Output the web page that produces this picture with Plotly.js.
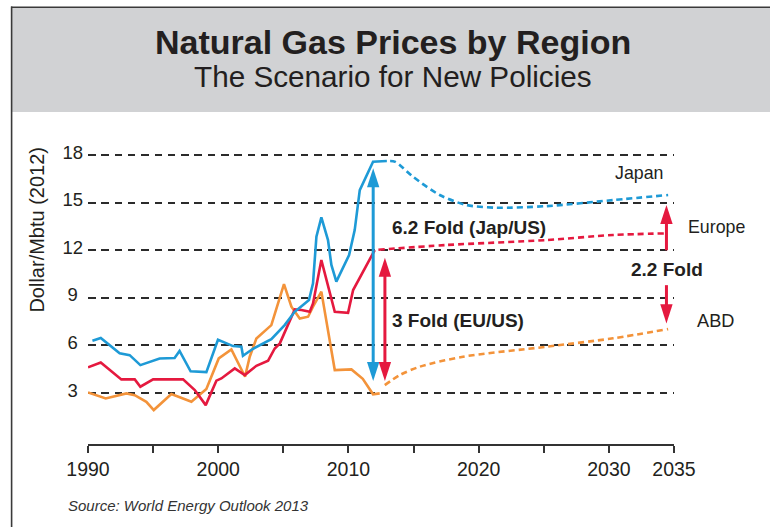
<!DOCTYPE html>
<html>
<head>
<meta charset="utf-8">
<script src="https://cdn.plot.ly/plotly-3.0.1.min.js"></script>
<style>html,body{margin:0;padding:0;background:#fff;}#chart{width:770px;height:527px;}</style>
</head>
<body>
<div id="chart"></div>
<script>
// ---- data ----
const japanHistYears = [1990.34, 1990.98, 1992.43, 1993.20, 1994.02, 1995.50, 1996.65, 1997.03, 1997.88, 1999.09, 1999.98, 2001.14, 2001.78, 2001.90, 2002.67, 2003.19, 2004.08, 2005.10, 2005.87, 2006.51, 2006.97, 2007.28, 2007.54, 2007.92, 2008.43, 2008.69, 2009.07, 2010.05, 2010.48, 2010.87, 2011.89, 2012.95];
const japanHistPrice = [6.30, 6.47, 5.50, 5.39, 4.76, 5.18, 5.21, 5.65, 4.37, 4.32, 6.36, 5.96, 5.92, 5.35, 5.79, 6.02, 6.40, 7.28, 8.12, 8.55, 8.86, 9.91, 12.85, 14.07, 12.64, 11.07, 10.02, 11.70, 13.27, 15.79, 17.58, 17.62];
const japanProjYears = [2013.2, 2013.6, 2014.96, 2017.01, 2019.06, 2021.37, 2025.21, 2030.32, 2034.55];
const japanProjPrice = [17.62, 17.57, 16.63, 15.48, 14.85, 14.68, 14.78, 15.16, 15.48];

const europeHistYears = [1990.0, 1990.98, 1992.56, 1993.59, 1994.02, 1995.0, 1997.30, 1998.20, 1999.04, 1999.86, 2000.24, 2001.27, 2002.04, 2002.93, 2003.83, 2004.34, 2004.73, 2005.88, 2006.39, 2007.03, 2007.28, 2007.92, 2008.95, 2009.97, 2010.36, 2012.02];
const europeHistPrice = [4.62, 4.93, 3.86, 3.86, 3.40, 3.86, 3.86, 3.19, 2.24, 3.78, 3.92, 4.55, 4.13, 4.72, 5.04, 5.81, 6.13, 8.27, 8.23, 8.12, 8.65, 11.38, 8.12, 8.06, 9.49, 12.01];
const europeProjYears = [2012.3, 2017.53, 2025.21, 2030.32, 2034.3];
const europeProjPrice = [12.03, 12.33, 12.64, 12.96, 13.06];

const usHistYears = [1990.0, 1991.36, 1992.95, 1993.59, 1994.48, 1995.05, 1996.40, 1997.94, 1999.09, 2000.04, 2001.01, 2001.65, 2002.06, 2002.42, 2002.93, 2004.08, 2005.05, 2005.62, 2006.26, 2006.90, 2007.28, 2007.92, 2008.43, 2008.95, 2010.23, 2011.10, 2011.89, 2012.40];
const usHistPrice = [3.04, 2.66, 2.98, 2.87, 2.45, 1.93, 2.94, 2.45, 3.25, 5.18, 5.75, 4.66, 4.03, 5.29, 6.44, 7.28, 9.87, 8.44, 7.70, 7.81, 8.44, 9.39, 6.97, 4.45, 4.49, 3.90, 2.92, 2.98];
const usProjYears = [2012.79, 2013.94, 2015.47, 2018.80, 2025.21, 2030.32, 2034.55];
const usProjPrice = [3.50, 4.13, 4.66, 5.29, 5.92, 6.45, 7.03];

// ratio arrows: year, low end, high end, head at low, head at high, colour key
const arrowYears = [2011.9, 2012.8, 2034.42, 2034.42];
const arrowLow = [3.76, 3.76, 12.0, 7.39];
const arrowHigh = [17.16, 11.53, 14.85, 9.8];
const arrowHeadLow = [true, true, false, true];
const arrowHeadHigh = [true, true, true, false];
const arrowColorKey = ['japan', 'europe', 'europe', 'europe'];

const xTickVals = [1990, 1995, 2000, 2005, 2010, 2015, 2020, 2025, 2030, 2035];
const xTickText = ['1990', '', '2000', '', '2010', '', '2020', '', '2030', '2035'];
const yTickVals = [3, 6, 9, 12, 15, 18];
const yTickText = ['3\u00a0', '6\u00a0', '9\u00a0', '12', '15', '18'];

const titleText = 'Natural Gas Prices by Region';
const subtitleText = 'The Scenario for New Policies';
const yTitleText = 'Dollar/Mbtu (2012)';
const sourceText = 'Source: World Energy Outlook 2013';
const regionLabels = ['Japan', 'Europe', 'ABD'];
const foldLabels = ['6.2 Fold (Jap/US)', '3 Fold (EU/US)', '2.2 Fold'];

// ---- styling ----
const COLORS = {japan: '#1e9ad6', europe: '#e5193f', us: '#f3933a'};
const INK = '#231f20';
const W = 770, H = 527;
const M = {l: 88, r: 96, t: 152, b: 83};
const PW = W - M.l - M.r, PH = H - M.t - M.b;
const px = v => (v - M.l) / PW;
const py = v => (H - M.b - v) / PH;
const SANS = 'Liberation Sans, Arial, sans-serif';

function solid(x, y, c) {
  return {x: x, y: y, type: 'scatter', mode: 'lines', hoverinfo: 'skip',
          line: {color: c, width: 2.6}};
}
function dashed(x, y, c) {
  return {x: x, y: y, type: 'scatter', mode: 'lines', hoverinfo: 'skip',
          line: {color: c, width: 2.6, dash: '6px,4px', shape: 'spline', smoothing: 0.8}};
}

const traces = [
  solid(usHistYears, usHistPrice, COLORS.us),
  solid(europeHistYears, europeHistPrice, COLORS.europe),
  solid(japanHistYears, japanHistPrice, COLORS.japan),
  dashed(usProjYears, usProjPrice, COLORS.us),
  dashed(europeProjYears, europeProjPrice, COLORS.europe),
  dashed(japanProjYears, japanProjPrice, COLORS.japan)
];

const INSET = 0.4;
arrowYears.forEach((yr, i) => {
  const c = COLORS[arrowColorKey[i]];
  const lo = arrowLow[i] + (arrowHeadLow[i] ? INSET : 0);
  const hi = arrowHigh[i] - (arrowHeadHigh[i] ? INSET : 0);
  traces.push({x: [yr, yr], y: [lo, hi], type: 'scatter', mode: 'lines', hoverinfo: 'skip',
               line: {color: c, width: 3}});
  const hx = [], hy = [], ha = [];
  if (arrowHeadLow[i]) { hx.push(yr); hy.push(arrowLow[i]); ha.push(180); }
  if (arrowHeadHigh[i]) { hx.push(yr); hy.push(arrowHigh[i]); ha.push(0); }
  traces.push({x: hx, y: hy, type: 'scatter', mode: 'markers', hoverinfo: 'skip',
               marker: {symbol: 'arrow', size: 20, color: c, angle: ha, line: {width: 0}}});
});

function label(text, cx, cy, font, anchor) {
  return {text: text, xref: 'paper', yref: 'paper', x: px(cx), y: py(cy),
          xanchor: anchor || 'center', yanchor: 'middle', showarrow: false, font: font};
}

const annotations = [
  label(titleText, 392.5, 42.3, {family: SANS, size: 34, color: INK, weight: 'bold'}),
  label(subtitleText, 392.5, 76.4, {family: SANS, size: 29.7, color: INK}),
  Object.assign(label(yTitleText, 37.4, 229.2, {family: SANS, size: 20, color: INK}), {textangle: -90}),
  label(sourceText, 66, 505.5, {family: SANS, size: 15, color: '#333', style: 'italic'}, 'left'),
  label(regionLabels[0], 639, 173.3, {family: SANS, size: 17.8, color: INK}),
  label(regionLabels[1], 716.9, 226.9, {family: SANS, size: 17.8, color: INK}),
  label(regionLabels[2], 715.8, 320.9, {family: SANS, size: 18.2, color: INK}),
  label(foldLabels[0], 469.2, 227.7, {family: SANS, size: 19, color: INK, weight: 'bold'}),
  label(foldLabels[1], 457.5, 320.1, {family: SANS, size: 19, color: INK, weight: 'bold'}),
  label(foldLabels[2], 667.2, 269.4, {family: SANS, size: 19, color: INK, weight: 'bold'})
];

const shapes = [
  {type: 'rect', xref: 'paper', yref: 'paper', x0: px(12), x1: px(772), y0: py(8), y1: py(112),
   fillcolor: '#d1d2d4', line: {width: 0}, layer: 'below'},
  {type: 'line', xref: 'paper', yref: 'paper', x0: px(11), x1: px(772), y0: py(7.3), y1: py(7.3),
   line: {color: '#3a3a3a', width: 1.6}},
  {type: 'line', xref: 'paper', yref: 'paper', x0: px(11.6), x1: px(11.6), y0: py(6.5), y1: py(530),
   line: {color: '#3a3a3a', width: 1.6}}
];

const layout = {
  width: W, height: H, margin: M,
  paper_bgcolor: '#fff', plot_bgcolor: 'rgba(0,0,0,0)',
  showlegend: false,
  xaxis: {range: [1990, 2035], tickvals: xTickVals, ticktext: xTickText,
          showgrid: false, zeroline: false, showline: true, linecolor: '#333', linewidth: 2,
          ticks: 'outside', ticklen: 7, tickwidth: 2, tickcolor: '#333',
          tickfont: {family: SANS, size: 19.5, color: INK}, fixedrange: true},
  yaxis: {range: [-0.21, 18.19], tickvals: yTickVals, ticktext: yTickText,
          showgrid: true, gridcolor: '#2b2b2b', gridwidth: 2, griddash: '7.5px,5.8px',
          zeroline: false, showline: false, ticks: '', ticklabelstandoff: 4, ticklabelshift: -3,
          tickfont: {family: SANS, size: 18.5, color: INK}, fixedrange: true},
  annotations: annotations,
  shapes: shapes
};

Plotly.newPlot('chart', traces, layout, {displayModeBar: false, staticPlot: true});
</script>
</body>
</html>
